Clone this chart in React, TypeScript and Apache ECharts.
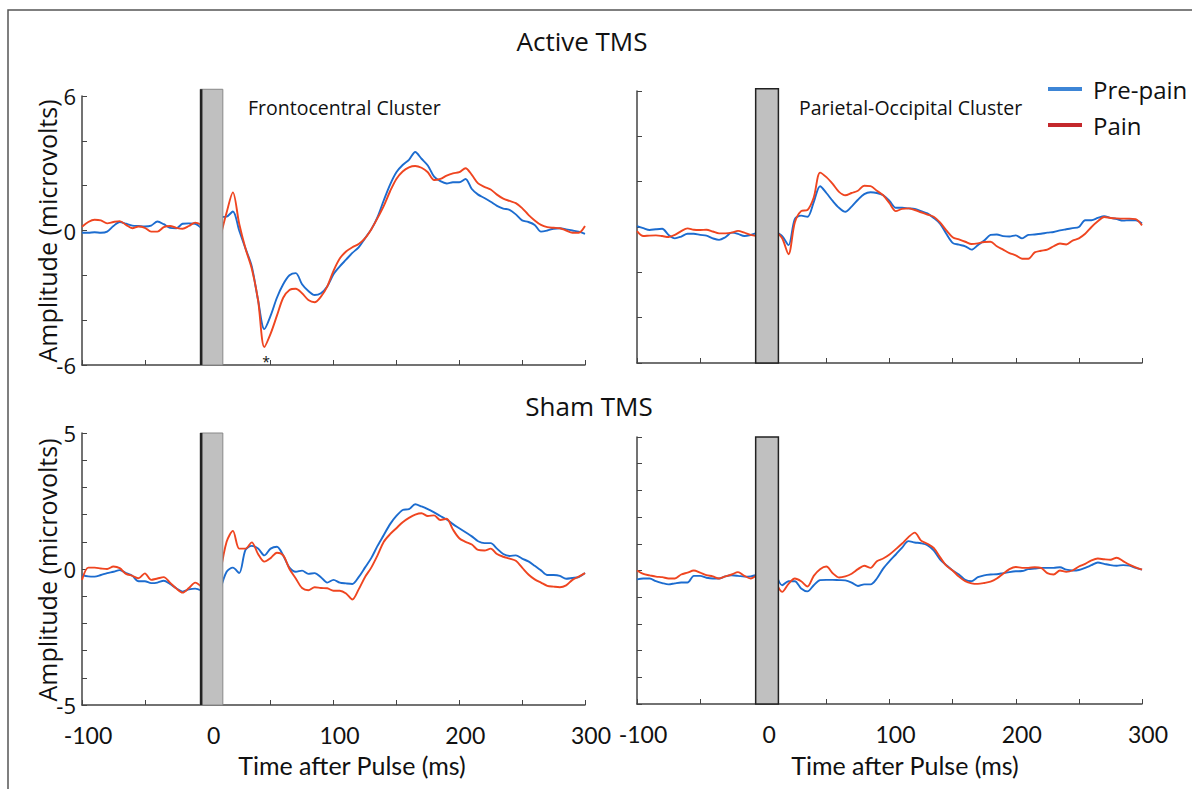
import React, { useEffect, useRef } from "react";
import * as echarts from "echarts";

// ---- Data ----
const PRE_TIMES = [-100, -95, -90, -85, -80, -75, -70, -65, -60, -55, -50, -45, -40, -35, -30, -25, -20, -15, -10, -5];
const POST_TIMES = [
  10, 15, 20, 25, 30, 35, 40, 45, 50, 55,
  60, 65, 70, 75, 80, 85, 90, 95, 100, 105,
  110, 115, 120, 125, 130, 135, 140, 145, 150, 155,
  160, 165, 170, 175, 180, 185, 190, 195, 200, 205,
  210, 215, 220, 225, 230, 235, 240, 245, 250, 255,
  260, 265, 270, 275, 280, 285, 290, 295, 300,
];
const X_TICK_LABELS = [-100, 0, 100, 200, 300];
const TOP_Y_LABELS = [-6, 0, 6];
const BOTTOM_Y_LABELS = [-5, 0, 5];
const SERIES_NAMES = ["Pre-pain", "Pain"];
const BAR_START = -6;
const BAR_END = 12;

// Active TMS, Frontocentral
const TL_BLUE_PRE = [-0.1, -0.1, -0.08, -0.1, -0.05, 0.2, 0.38, 0.3, 0.22, 0.2, 0.18, 0.22, 0.4, 0.28, 0.12, 0.1, 0.3, 0.32, 0.3, 0.1];
const TL_RED_PRE = [0.17, 0.38, 0.48, 0.45, 0.32, 0.38, 0.42, 0.25, 0.1, 0.18, 0.12, -0.05, -0.05, 0.15, 0.2, 0.12, 0.08, 0.2, 0.35, 0.25];
const TL_BLUE_POST = [
  0.6, 0.62, 0.85, 0.0, -0.8, -1.6, -3.1, -4.4, -3.8, -3.0,
  -2.4, -2.0, -1.9, -2.4, -2.7, -2.88, -2.8, -2.5, -1.95, -1.6,
  -1.3, -1.0, -0.75, -0.35, 0.05, 0.6, 1.35, 2.05, 2.6, 2.92,
  3.15, 3.5, 3.2, 2.9, 2.4, 2.2, 2.1, 2.15, 2.15, 2.3,
  1.85, 1.6, 1.45, 1.28, 1.1, 0.98, 0.92, 0.72, 0.45, 0.38,
  0.25, -0.05, 0.0, 0.08, 0.1, 0.05, 0.0, -0.05, -0.15,
];
const TL_RED_POST = [
  -0.3, 0.8, 1.7, 0.3, -0.8, -1.7, -3.1, -5.2, -4.6, -3.8,
  -3.0, -2.65, -2.6, -2.8, -3.1, -3.2, -2.95, -2.5, -1.8, -1.25,
  -0.94, -0.75, -0.6, -0.35, 0.05, 0.55, 1.1, 1.75, 2.3, 2.63,
  2.82, 2.88, 2.8, 2.6, 2.25, 2.3, 2.45, 2.55, 2.6, 2.78,
  2.48, 2.1, 1.95, 1.83, 1.6, 1.42, 1.32, 1.22, 1.0, 0.7,
  0.45, 0.25, 0.15, 0.12, 0.1, 0.0, -0.1, -0.1, 0.2,
];

// Active TMS, Parietal-Occipital
const TR_BLUE_PRE = [0.04, -0.05, -0.13, -0.1, -0.08, -0.35, -0.5, -0.42, -0.3, -0.3, -0.35, -0.38, -0.5, -0.57, -0.45, -0.25, -0.3, -0.4, -0.35, -0.26];
const TR_RED_PRE = [-0.18, -0.4, -0.38, -0.37, -0.4, -0.44, -0.35, -0.18, -0.06, -0.12, -0.13, -0.12, -0.2, -0.28, -0.28, -0.25, -0.17, -0.25, -0.35, -0.4];
const TR_BLUE_POST = [
  -0.2, -0.4, -0.8, 0.35, 0.5, 0.45, 1.1, 1.8, 1.5, 1.15,
  0.85, 0.67, 0.9, 1.2, 1.45, 1.53, 1.5, 1.4, 1.15, 0.85,
  0.85, 0.82, 0.8, 0.7, 0.6, 0.4, 0.15, -0.3, -0.7, -0.78,
  -0.85, -1.0, -0.8, -0.6, -0.35, -0.33, -0.4, -0.42, -0.37, -0.5,
  -0.35, -0.33, -0.3, -0.25, -0.22, -0.15, -0.1, -0.05, 0.0, 0.3,
  0.3, 0.4, 0.48, 0.4, 0.35, 0.28, 0.3, 0.3, 0.15,
];
const TR_RED_POST = [
  -0.2, -0.5, -1.2, 0.2, 0.7, 0.75, 1.3, 2.4, 2.2, 1.9,
  1.55, 1.4, 1.5, 1.6, 1.82, 1.8, 1.6, 1.4, 1.05, 0.7,
  0.8, 0.82, 0.75, 0.65, 0.55, 0.45, 0.2, -0.15, -0.45, -0.55,
  -0.65, -0.75, -0.72, -0.66, -0.65, -0.85, -1.0, -1.15, -1.25, -1.4,
  -1.4, -1.12, -1.05, -1.0, -0.85, -0.73, -0.77, -0.6, -0.5, -0.3,
  0.0, 0.25, 0.44, 0.4, 0.38, 0.37, 0.37, 0.35, 0.07,
];

// Sham TMS, Frontocentral
const BL_BLUE_PRE = [-0.22, -0.27, -0.28, -0.22, -0.15, -0.1, -0.04, -0.15, -0.25, -0.45, -0.45, -0.52, -0.5, -0.43, -0.55, -0.71, -0.83, -0.75, -0.72, -0.8];
const BL_RED_PRE = [-0.4, 0.05, 0.05, 0.02, 0.0, 0.09, 0.03, -0.18, -0.25, -0.34, -0.16, -0.4, -0.35, -0.3, -0.5, -0.72, -0.87, -0.7, -0.5, -0.65];
const BL_BLUE_POST = [
  -0.77, -0.1, 0.05, -0.15, 0.7, 0.85, 0.75, 0.5, 0.75, 0.82,
  0.5, 0.05, -0.1, -0.06, -0.18, -0.15, -0.3, -0.5, -0.4, -0.5,
  -0.53, -0.55, -0.3, 0.05, 0.4, 0.85, 1.25, 1.65, 1.95, 2.17,
  2.2, 2.38, 2.3, 2.2, 2.08, 1.95, 1.82, 1.65, 1.5, 1.35,
  1.2, 1.02, 0.95, 0.95, 0.75, 0.55, 0.48, 0.5, 0.38, 0.28,
  0.12, -0.05, -0.22, -0.22, -0.25, -0.36, -0.33, -0.3, -0.15,
];
const BL_RED_POST = [
  -0.16, 1.0, 1.4, 0.75, 0.75, 0.98, 0.55, 0.27, 0.4, 0.6,
  0.5, 0.0, -0.35, -0.7, -0.78, -0.67, -0.7, -0.71, -0.8, -0.8,
  -0.9, -1.12, -0.75, -0.3, 0.05, 0.5, 1.0, 1.28, 1.5, 1.72,
  1.88, 2.0, 2.05, 1.95, 1.97, 1.8, 1.85, 1.45, 1.13, 1.0,
  0.9, 0.7, 0.68, 0.75, 0.55, 0.45, 0.38, 0.3, 0.05, -0.2,
  -0.38, -0.5, -0.62, -0.65, -0.67, -0.6, -0.4, -0.28, -0.15,
];

// Sham TMS, Parietal-Occipital
const BR_BLUE_PRE = [-0.33, -0.3, -0.3, -0.4, -0.47, -0.52, -0.48, -0.45, -0.45, -0.2, -0.2, -0.27, -0.3, -0.3, -0.22, -0.18, -0.2, -0.23, -0.22, -0.17];
const BR_RED_PRE = [0.0, -0.13, -0.18, -0.23, -0.25, -0.3, -0.3, -0.15, -0.08, 0.0, -0.08, -0.17, -0.22, -0.3, -0.22, -0.15, -0.06, -0.2, -0.3, -0.17];
const BR_BLUE_POST = [
  -0.1, -0.55, -0.4, -0.4, -0.67, -0.78, -0.55, -0.36, -0.35, -0.35,
  -0.36, -0.37, -0.45, -0.58, -0.52, -0.52, -0.3, 0.07, 0.35, 0.6,
  0.86, 1.1, 1.05, 1.02, 0.95, 0.75, 0.42, 0.2, 0.0, -0.15,
  -0.35, -0.4, -0.25, -0.18, -0.15, -0.14, -0.1, -0.06, -0.03, -0.02,
  0.05, 0.07, 0.1, 0.1, 0.1, 0.12, 0.03, 0.0, 0.02, 0.1,
  0.2, 0.3, 0.25, 0.2, 0.18, 0.2, 0.18, 0.1, 0.03,
];
const BR_RED_POST = [
  -0.45, -0.8, -0.5, -0.3, -0.4, -0.6, -0.2, 0.05, 0.15, -0.1,
  -0.26, -0.22, -0.12, 0.05, 0.18, 0.1, 0.35, 0.45, 0.6, 0.8,
  1.01, 1.25, 1.42, 1.12, 1.0, 0.85, 0.5, 0.18, 0.0, -0.23,
  -0.4, -0.48, -0.5, -0.47, -0.42, -0.3, -0.12, 0.05, 0.13, 0.1,
  0.1, 0.12, 0.1, -0.1, -0.15, 0.0, -0.05, 0.0, 0.15, 0.25,
  0.38, 0.45, 0.42, 0.4, 0.48, 0.35, 0.22, 0.12, 0.03,
];

const BLUE = "#1c6ccf";
const RED = "#ef4520";
const AXIS_COLOR = "#444";
const FONT = "'Open Sans', 'Noto Sans', sans-serif";
const NUM_FONT = "Lato, 'Open Sans', sans-serif";

function toData(pre: number[], post: number[]) {
  const d: any[] = PRE_TIMES.map((t, i) => [t, pre[i]]);
  d.push([0, "-"]);
  POST_TIMES.forEach((t, i) => d.push([t, post[i]]));
  return d;
}

const PANELS = [
  { blue: [TL_BLUE_PRE, TL_BLUE_POST], red: [TL_RED_PRE, TL_RED_POST], yMin: -6, yMax: 6, yInt: 2, barTop: 6.3, labels: TOP_Y_LABELS, showX: false, showY: true },
  { blue: [TR_BLUE_PRE, TR_BLUE_POST], red: [TR_RED_PRE, TR_RED_POST], yMin: -6, yMax: 6, yInt: 2, barTop: 6.1, labels: TOP_Y_LABELS, showX: false, showY: false },
  { blue: [BL_BLUE_PRE, BL_BLUE_POST], red: [BL_RED_PRE, BL_RED_POST], yMin: -5, yMax: 5, yInt: 1, barTop: 5, labels: BOTTOM_Y_LABELS, showX: true, showY: true },
  { blue: [BR_BLUE_PRE, BR_BLUE_POST], red: [BR_RED_PRE, BR_RED_POST], yMin: -5, yMax: 5, yInt: 1, barTop: 5, labels: BOTTOM_Y_LABELS, showX: true, showY: false },
];

const GRIDS = [
  { left: 82, top: 96, width: 503, height: 269 },
  { left: 637, top: 91, width: 505, height: 272 },
  { left: 82, top: 433, width: 503, height: 272 },
  { left: 637, top: 437, width: 505, height: 267 },
];

export default function App() {
  const ref = useRef<HTMLDivElement>(null);
  useEffect(() => {
    if (!ref.current) return;
    const chart = echarts.init(ref.current, null, { renderer: "svg" });

    const xAxis = PANELS.map((p, i) => ({
      type: "value",
      gridIndex: i,
      min: -100,
      max: 300,
      interval: 50,
      axisLine: { show: true, onZero: false, lineStyle: { color: AXIS_COLOR, width: 1.5 } },
      axisTick: { show: true, inside: true, length: 5, lineStyle: { color: AXIS_COLOR, width: 1 } },
      splitLine: { show: false },
      axisLabel: {
        show: p.showX,
        formatter: (v: number) => (X_TICK_LABELS.includes(v) ? String(v) : ""),
        fontSize: 23,
        fontFamily: NUM_FONT,
        color: "#111",
        margin: 18,
        padding: [0, 0, 0, 12],
      },
    }));

    const yAxis = PANELS.map((p, i) => ({
      type: "value",
      gridIndex: i,
      min: p.yMin,
      max: p.yMax,
      interval: p.yInt,
      axisLine: { show: true, onZero: false, lineStyle: { color: AXIS_COLOR, width: 1.5 } },
      axisTick: { show: true, inside: true, length: 5, lineStyle: { color: AXIS_COLOR, width: 1 } },
      splitLine: { show: false },
      axisLabel: {
        show: p.showY,
        formatter: (v: number) => (p.labels.includes(v) ? String(v) : ""),
        fontSize: 22,
        fontFamily: FONT,
        color: "#111",
        margin: 6,
      },
    }));

    const series: any[] = [];
    PANELS.forEach((p, i) => {
      series.push({
        type: "line",
        name: SERIES_NAMES[0],
        xAxisIndex: i,
        yAxisIndex: i,
        data: toData(p.blue[0], p.blue[1]),
        showSymbol: false,
        symbol: "none",
        smooth: 0.3,
        connectNulls: false,
        lineStyle: { color: BLUE, width: 1.9 },
        itemStyle: { color: BLUE },
        z: 2,
      });
      series.push({
        type: "line",
        name: SERIES_NAMES[1],
        xAxisIndex: i,
        yAxisIndex: i,
        data: toData(p.red[0], p.red[1]),
        showSymbol: false,
        symbol: "none",
        smooth: 0.3,
        connectNulls: false,
        lineStyle: { color: RED, width: 1.9 },
        itemStyle: { color: RED },
        z: 3,
      });
      series.push({
        type: "custom",
        xAxisIndex: i,
        yAxisIndex: i,
        silent: true,
        clip: false,
        z: 5,
        data: [[BAR_START, BAR_END, p.yMin, p.barTop]],
        encode: { x: [0, 1], y: [2, 3] },
        renderItem: (params: any, api: any) => {
          const p1 = api.coord([api.value(0), api.value(3)]);
          const p2 = api.coord([api.value(1), api.value(2)]);
          const left = i % 2 === 0;
          return {
            type: "group",
            children: [
              {
                type: "rect",
                shape: { x: p1[0], y: p1[1], width: p2[0] - p1[0], height: p2[1] - p1[1] },
                style: { fill: "#c0c0c0", stroke: left ? "#888" : "#222", lineWidth: left ? 1 : 1.5 },
              },
              left
                ? {
                    type: "line",
                    shape: { x1: p1[0] + 1, y1: p1[1], x2: p1[0] + 1, y2: p2[1] },
                    style: { stroke: "#222", lineWidth: 2.5 },
                  }
                : { type: "group", children: [] },
            ],
          };
        },
      });
    });

    const graphic: any[] = [
      { type: "rect", shape: { x: 8, y: 10, width: 1250, height: 850 }, style: { fill: "none", stroke: "#555", lineWidth: 1.5 }, silent: true },
      { type: "text", x: 582, y: 41, style: { text: "Active TMS", fontSize: 26, fontFamily: FONT, fill: "#111", textAlign: "center", textVerticalAlign: "middle" } },
      { type: "text", x: 589, y: 406, style: { text: "Sham TMS", fontSize: 26, fontFamily: FONT, fill: "#111", textAlign: "center", textVerticalAlign: "middle" } },
      { type: "text", x: 248, y: 107, style: { text: "Frontocentral Cluster", fontSize: 19.5, fontFamily: FONT, fill: "#111", textAlign: "left", textVerticalAlign: "middle" } },
      { type: "text", x: 799, y: 107, style: { text: "Parietal-Occipital Cluster", fontSize: 19.5, fontFamily: FONT, fill: "#111", textAlign: "left", textVerticalAlign: "middle" } },
      { type: "text", x: 47, y: 231, rotation: Math.PI / 2, style: { text: "Amplitude (microvolts)", fontSize: 25, fontFamily: FONT, fill: "#111", textAlign: "center", textVerticalAlign: "middle" } },
      { type: "text", x: 47, y: 570, rotation: Math.PI / 2, style: { text: "Amplitude (microvolts)", fontSize: 25, fontFamily: FONT, fill: "#111", textAlign: "center", textVerticalAlign: "middle" } },
      { type: "text", x: 352, y: 765, style: { text: "Time after Pulse (ms)", fontSize: 25, fontFamily: NUM_FONT, fill: "#111", textAlign: "center", textVerticalAlign: "middle" } },
      { type: "text", x: 905, y: 765, style: { text: "Time after Pulse (ms)", fontSize: 25, fontFamily: NUM_FONT, fill: "#111", textAlign: "center", textVerticalAlign: "middle" } },
      { type: "text", x: 266, y: 361, style: { text: "*", fontSize: 14, fontFamily: FONT, fill: "#111", textAlign: "center", textVerticalAlign: "middle" } },
    ];

    chart.setOption({
      animation: false,
      backgroundColor: "#fff",
      grid: GRIDS,
      xAxis,
      yAxis,
      legend: {
        orient: "vertical",
        left: 1043,
        top: 69,
        itemWidth: 34,
        itemHeight: 4,
        itemGap: 6,
        icon: "rect",
        selectedMode: false,
        data: [
          { name: SERIES_NAMES[0], itemStyle: { color: "#3d85d6" } },
          { name: SERIES_NAMES[1], itemStyle: { color: "#c4282c" } },
        ],
        textStyle: { fontSize: 24, fontFamily: FONT, color: "#111", lineHeight: 30, padding: [0, 0, 0, 6] },
      },
      graphic,
      series,
    });

    return () => chart.dispose();
  }, []);

  return <div ref={ref} style={{ position: "fixed", left: 0, top: 0, width: 1192, height: 789, background: "#fff" }} />;
}
